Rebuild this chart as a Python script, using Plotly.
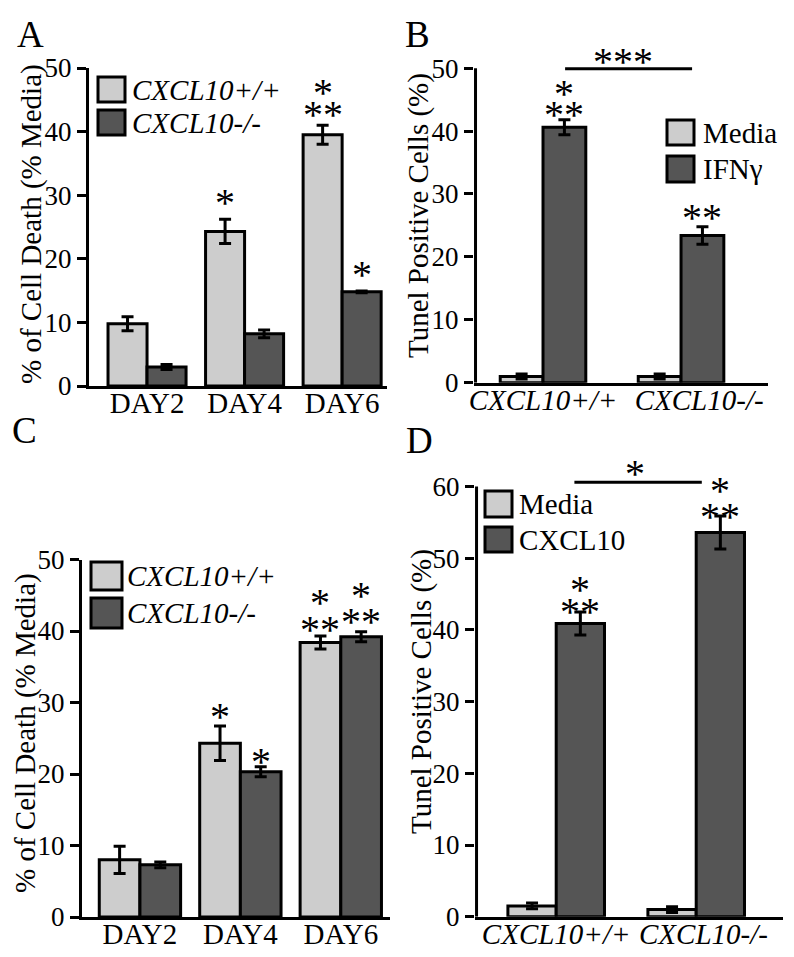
import plotly.graph_objects as go

W, H = 794, 957
FONT = "Liberation Serif"
LIGHT = "#cdcdcd"
DARK = "#555555"

# ---------------- data ----------------
days = ["DAY2", "DAY4", "DAY6"]
genotypes = ["CXCL10+/+", "CXCL10-/-"]

# Panel A
a_wt = [9.8, 24.3, 39.5]
a_wt_err = [1.1, 1.9, 1.5]
a_ko = [3.0, 8.2, 14.8]
a_ko_err = [0.4, 0.6, 0.15]
# Panel B
b_media = [1.0, 1.0]
b_media_err = [0.4, 0.4]
b_ifng = [40.6, 23.4]
b_ifng_err = [1.2, 1.4]
# Panel C
c_wt = [8.0, 24.3, 38.4]
c_wt_err = [1.9, 2.4, 0.9]
c_ko = [7.3, 20.3, 39.2]
c_ko_err = [0.4, 0.7, 0.7]
# Panel D
d_media = [1.5, 1.0]
d_media_err = [0.4, 0.4]
d_cxcl10 = [40.9, 53.6]
d_cxcl10_err = [1.6, 2.3]

# significance marks: (category, series 0=light 1=dark, y, text)
a_sig = [("DAY4", 0, 30.1, "*"), ("DAY6", 0, 47.4, "*"), ("DAY6", 0, 44.0, "**"), ("DAY6", 1, 18.8, "*")]
b_sig = [(0, 1, 47.3, "*"), (0, 1, 43.9, "**"), (1, 1, 27.5, "**")]
c_sig = [("DAY4", 0, 29.2, "*"), ("DAY4", 1, 22.9, "*"), ("DAY6", 0, 45.1, "*"), ("DAY6", 0, 41.3, "**"),
         ("DAY6", 1, 46.1, "*"), ("DAY6", 1, 42.4, "**")]
d_sig = [(0, 1, 46.7, "*"), (0, 1, 43.7, "**"), (1, 1, 60.5, "*"), (1, 1, 57.0, "**")]

# ---------------- layout helpers ----------------
def px(p):
    return p / W

def py(p):
    return 1 - p / H

panels = {
    "A": dict(xa="x", ya="y", xd=(89, 387), yd=(68, 386), xr=[-0.595, 2.46], yr=[0, 50], bw=0.40, top=50,
              cats=days, lead=[0, 0]),
    "B": dict(xa="x2", ya="y2", xd=(474, 768), yd=(36.7, 382.7), xr=[-0.5, 1.63], yr=[0, 55], bw=0.31, top=50,
              cats=genotypes, lead=[0, 5]),
    "C": dict(xa="x3", ya="y3", xd=(82, 390), yd=(559.5, 917), xr=[-0.577, 2.49], yr=[0, 50], bw=0.405, top=50,
              cats=days, lead=[0, 0]),
    "D": dict(xa="x4", ya="y4", xd=(475, 783), yd=(450.7, 916.7), xr=[-0.58, 1.62], yr=[0, 65], bw=0.345, top=60,
              cats=genotypes, lead=[0, 2]),
}

fig = go.Figure()

def add_bars(p, cats, vals, errs, color, series):
    cfg = panels[p]
    w = cfg["bw"]
    fig.add_trace(go.Bar(
        x=cats, y=vals, width=w, offset=-w if series == 0 else 0,
        marker=dict(color=color, line=dict(color="black", width=3)),
        error_y=dict(type="data", array=errs, visible=True, color="black", thickness=3, width=6),
        xaxis=cfg["xa"], yaxis=cfg["ya"], showlegend=False,
    ))

add_bars("A", days, a_wt, a_wt_err, LIGHT, 0)
add_bars("A", days, a_ko, a_ko_err, DARK, 1)
add_bars("B", genotypes, b_media, b_media_err, LIGHT, 0)
add_bars("B", genotypes, b_ifng, b_ifng_err, DARK, 1)
add_bars("C", days, c_wt, c_wt_err, LIGHT, 0)
add_bars("C", days, c_ko, c_ko_err, DARK, 1)
add_bars("D", genotypes, d_media, d_media_err, LIGHT, 0)
add_bars("D", genotypes, d_cxcl10, d_cxcl10_err, DARK, 1)

layout = dict(
    width=W, height=H, margin=dict(l=0, r=0, t=0, b=0, pad=0, autoexpand=False),
    paper_bgcolor="white", plot_bgcolor="white", barmode="overlay",
    font=dict(family=FONT, color="black"),
)

annotations = []
shapes = []

for name, cfg in panels.items():
    xi = cfg["xa"][1:] or ""
    yi = cfg["ya"][1:] or ""
    italic = name in ("B", "D")
    own_line = cfg["yr"][1] != cfg["top"]
    layout["xaxis" + xi] = dict(
        domain=[px(cfg["xd"][0]), px(cfg["xd"][1])], range=cfg["xr"], anchor=cfg["ya"],
        showline=True, linewidth=3, linecolor="black", ticks="", showgrid=False, zeroline=False,
        tickangle=0, automargin=False, ticklabelstandoff=-11,
        tickvals=cfg["cats"], ticktext=["&nbsp;" * n + c for n, c in zip(cfg["lead"], cfg["cats"])],
        tickfont=dict(family=FONT, size=29, color="black", style="italic" if italic else "normal"),
        fixedrange=True,
    )
    layout["yaxis" + yi] = dict(
        domain=[py(cfg["yd"][1]), py(cfg["yd"][0])], range=cfg["yr"], anchor=cfg["xa"],
        showline=not own_line, linewidth=3, linecolor="black",
        ticks="outside", ticklen=9, tickwidth=3, tickcolor="black",
        tickvals=list(range(0, cfg["top"] + 1, 10)), automargin=False,
        showgrid=False, zeroline=False,
        tickfont=dict(family=FONT, size=27, color="black"), fixedrange=True,
    )
    if own_line:
        shapes.append(dict(type="line", xref=cfg["xa"], yref=cfg["ya"],
                           x0=cfg["xr"][0] + 0.011, x1=cfg["xr"][0] + 0.011, y0=0, y1=cfg["top"],
                           line=dict(color="black", width=3)))

STAR = dict(family=FONT, size=40, color="black")

def star_annots(p, sig):
    cfg = panels[p]
    cats = cfg["cats"]
    w = cfg["bw"]
    for cat, series, y, txt in sig:
        idx = cats.index(cat) if isinstance(cat, str) else cat
        x = idx + (-w / 2 if series == 0 else w / 2)
        annotations.append(dict(x=x, y=y, xref=cfg["xa"], yref=cfg["ya"], text=txt, showarrow=False,
                                xanchor="center", yanchor="middle", font=STAR, yshift=-8))

star_annots("A", a_sig)
star_annots("B", b_sig)
star_annots("C", c_sig)
star_annots("D", d_sig)

def bracket(p, x0, x1, y, ty, tx, txt):
    cfg = panels[p]
    shapes.append(dict(type="line", xref=cfg["xa"], yref=cfg["ya"], x0=x0, x1=x1, y0=y, y1=y,
                       line=dict(color="black", width=3)))
    annotations.append(dict(x=tx, y=ty, xref=cfg["xa"], yref=cfg["ya"], text=txt, showarrow=False,
                            xanchor="center", yanchor="middle", font=STAR, yshift=-8))

bracket("B", 0.16, 1.08, 49.9, 52.4, 0.58, "***")
bracket("D", 0.13, 1.04, 60.6, 62.9, 0.56, "*")

for letter, (cx, cy) in {"A": (30, 34), "B": (417, 34), "C": (24, 430), "D": (419, 440)}.items():
    annotations.append(dict(x=px(cx), y=py(cy), xref="paper", yref="paper", text=letter, showarrow=False,
                            xanchor="center", yanchor="middle",
                            font=dict(family=FONT, size=37, color="black")))

for title, (cx, cy) in [("% of Cell Death (% Media)", (31, 224)), ("Tunel Positive Cells (%)", (418, 216)),
                        ("% of Cell Death (% Media)", (25, 733)), ("Tunel Positive Cells (%)", (421, 691))]:
    annotations.append(dict(x=px(cx), y=py(cy), xref="paper", yref="paper", text=title, textangle=-90,
                            xanchor="center", yanchor="middle",
                            showarrow=False, font=dict(family=FONT, size=29, color="black")))

legends = [
    (98, 125, [(77, 102), (110, 135)], 130, ["CXCL10+/+", "CXCL10-/-"], True),
    (667, 694, [(120, 145), (156, 182)], 701, ["Media", "IFNγ"], False),
    (91, 122, [(562, 590), (598, 628)], 125, ["CXCL10+/+", "CXCL10-/-"], True),
    (485, 512, [(491, 517), (527, 552)], 517, ["Media", "CXCL10"], False),
]
for x0, x1, rows, tx, labels, it in legends:
    for (t, b), lab, col in zip(rows, labels, [LIGHT, DARK]):
        shapes.append(dict(type="rect", xref="paper", yref="paper", x0=px(x0), x1=px(x1), y0=py(b), y1=py(t),
                           fillcolor=col, line=dict(color="black", width=3)))
        annotations.append(dict(x=px(tx), y=py((t + b) / 2), xref="paper", yref="paper",
                                text=f"<i>{lab}</i>" if it else lab, xanchor="left", yanchor="middle",
                                showarrow=False, font=dict(family=FONT, size=29, color="black")))

layout["annotations"] = annotations
layout["shapes"] = shapes
fig.update_layout(**layout)
fig.write_html("out.html", config={"displayModeBar": False},
               post_script="document.body.style.margin='0px';document.body.style.overflow='hidden';")
